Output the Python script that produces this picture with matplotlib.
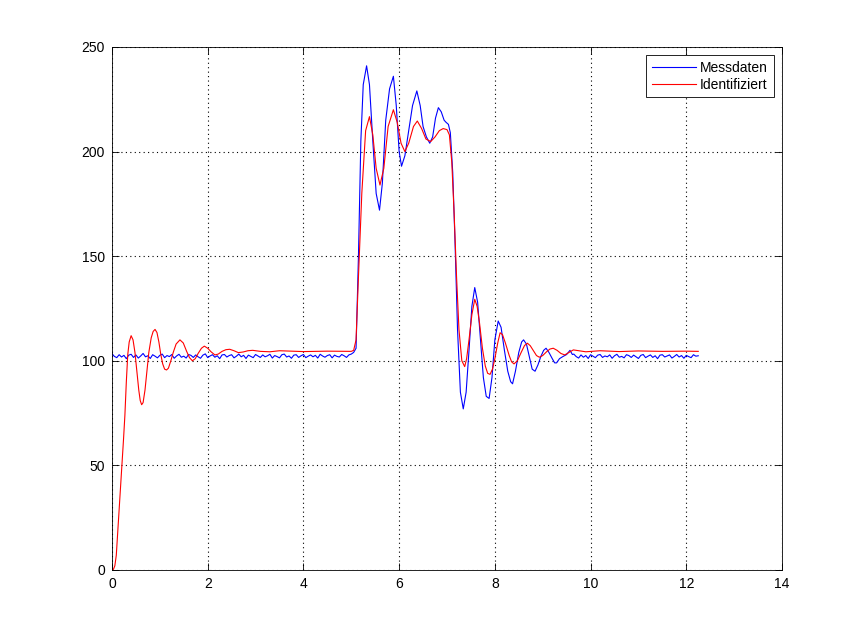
import numpy as np
import matplotlib.pyplot as plt

# Messdaten (blue): flat part before the step, sampled every 0.05 s
y_mess_start = [103.4, 102.1, 101.5, 102.9, 101.8, 102.6, 101.0, 102.7, 103.1, 101.6,
                102.8, 101.3, 102.3, 103.5, 101.9, 102.4, 101.1, 102.9, 102.2, 101.4,
                102.6, 103.2, 101.5, 102.5, 102.0, 103.0, 101.2, 102.3, 103.1, 101.7,
                102.2, 101.3, 103.0, 102.6, 101.6, 102.8, 101.9, 101.2, 102.7, 103.3,
                101.5, 102.3, 102.9, 101.7, 102.4, 101.0, 102.8, 103.0, 101.8, 102.5,
                102.9, 101.4, 102.2, 103.2, 101.9, 102.6, 101.1, 102.7, 102.1, 101.5,
                103.0, 102.3, 101.6, 102.8, 101.9, 102.4, 103.1, 101.3, 102.5, 102.0,
                101.4, 102.9, 103.2, 101.8, 102.3, 101.2, 102.7, 102.9, 101.6, 102.4,
                103.0, 101.5, 102.2, 102.8, 101.9, 102.6, 101.3, 103.1, 102.3, 101.7,
                102.5, 102.9, 101.4, 102.7, 102.1, 101.8, 103.0, 102.4, 101.6, 102.8,
                103.2]
t_mess_start = np.round(np.arange(0.0, 5.001, 0.05), 2)

# step response part
t_mess_step = [5.05, 5.1, 5.15, 5.2, 5.25, 5.32, 5.38, 5.45, 5.52,
               5.59, 5.65, 5.72, 5.8, 5.88, 5.94, 6.0, 6.05, 6.12, 6.2,
               6.28, 6.37, 6.44, 6.5, 6.57, 6.64, 6.7, 6.76, 6.82, 6.88,
               6.94, 6.98, 7.03, 7.07, 7.12, 7.17, 7.22, 7.28, 7.34, 7.4,
               7.46, 7.52, 7.58, 7.64, 7.7, 7.76, 7.82, 7.88, 7.94, 8.0,
               8.07, 8.13, 8.2, 8.27, 8.33, 8.37, 8.43, 8.5, 8.56, 8.6,
               8.66, 8.72, 8.78, 8.84, 8.9, 8.96, 9.02, 9.07, 9.13, 9.2,
               9.25, 9.29, 9.35, 9.42, 9.5, 9.57, 9.62]
y_mess_step = [104.0, 106.0, 150.0, 205.0, 232.0, 241.0, 232.0, 205.0, 180.0,
               172.0, 185.0, 215.0, 230.0, 236.0, 222.0, 200.0, 193.0, 198.0, 210.0,
               222.0, 229.0, 222.0, 212.0, 207.0, 204.0, 207.0, 216.0, 221.0, 219.0,
               215.0, 214.0, 213.0, 209.0, 190.0, 155.0, 115.0, 85.0, 77.0, 85.0,
               105.0, 126.0, 135.0, 128.0, 110.0, 92.0, 83.0, 82.0, 92.0, 110.0,
               119.0, 116.0, 105.0, 95.0, 90.0, 89.0, 95.0, 104.0, 109.0, 110.0,
               108.0, 102.0, 96.0, 95.0, 98.0, 102.0, 105.0, 106.0, 104.0, 101.0,
               99.0, 99.0, 101.0, 102.0, 103.0, 105.0, 103.0]

# flat part after the step, sampled every 0.05 s
y_mess_end = [103.2, 102.0, 101.3, 102.8, 101.7, 102.5, 101.1, 102.9, 102.2, 101.5,
              102.7, 103.0, 101.6, 102.3, 101.9, 102.8, 101.2, 102.4, 103.1, 101.7,
              102.1, 101.4, 102.9, 102.5, 101.6, 102.7, 101.9, 101.1, 102.6, 103.0,
              101.5, 102.2, 102.8, 101.6, 102.4, 101.0, 102.7, 102.9, 101.8, 102.3,
              102.8, 101.3, 102.1, 103.0, 101.8, 102.5, 101.2, 102.6, 102.0, 101.5,
              102.9, 102.2, 102.4]
t_mess_end = np.round(np.arange(9.65, 12.251, 0.05), 2)

# Identifiziert (red)
t_ident = [0.0, 0.03, 0.06, 0.09, 0.12, 0.16, 0.2, 0.24, 0.27, 0.3,
           0.33, 0.36, 0.4, 0.44, 0.48, 0.52, 0.56, 0.59, 0.62, 0.65,
           0.69, 0.73, 0.77, 0.82, 0.86, 0.9, 0.94, 0.98, 1.02, 1.06,
           1.1, 1.14, 1.18, 1.23, 1.28, 1.34, 1.42, 1.49, 1.56, 1.62,
           1.68, 1.74, 1.8, 1.87, 1.93, 2.0, 2.07, 2.15, 2.22, 2.3,
           2.38, 2.46, 2.55, 2.64, 2.74, 2.84, 2.94, 3.1, 3.3, 3.5,
           4.0, 4.5, 5.0, 5.05, 5.1, 5.15, 5.22, 5.3, 5.38, 5.45,
           5.52, 5.6, 5.68, 5.77, 5.88, 5.96, 6.04, 6.12, 6.2, 6.3,
           6.38, 6.47, 6.56, 6.66, 6.75, 6.84, 6.92, 7.0, 7.05, 7.1,
           7.15, 7.2, 7.25, 7.31, 7.37, 7.41, 7.46, 7.52, 7.58, 7.63,
           7.68, 7.74, 7.8, 7.85, 7.9, 7.95, 8.0, 8.06, 8.11, 8.16,
           8.22, 8.3, 8.35, 8.4, 8.47, 8.55, 8.62, 8.68, 8.74, 8.8,
           8.87, 8.93, 9.0, 9.08, 9.15, 9.22, 9.3, 9.38, 9.46, 9.55,
           9.64, 9.75, 9.9, 10.2, 10.6, 11.0, 11.5, 12.0, 12.25]
y_ident = [0.0, 0.3, 2.0, 7.0, 18.0, 33.0, 48.0, 62.0, 74.0, 90.0,
           103.0, 109.0, 112.0, 110.0, 104.0, 95.0, 86.0, 81.0, 79.0, 80.0,
           86.0, 95.0, 104.0, 111.0, 114.0, 115.0, 113.5, 109.0, 103.0, 98.5,
           96.0, 95.6, 96.5, 100.0, 104.0, 108.0, 110.0, 108.5, 104.5, 101.5,
           100.0, 101.0, 103.5, 106.0, 107.0, 106.0, 104.3, 102.8, 103.2, 104.5,
           105.3, 105.5, 104.8, 103.9, 104.2, 104.8, 105.0, 104.5, 104.3, 104.8,
           104.4, 104.6, 104.5, 105.0, 110.0, 140.0, 180.0, 210.0, 216.7, 208.0,
           192.0, 184.0, 192.0, 212.0, 220.0, 214.0, 204.0, 200.0, 204.0, 212.0,
           214.6, 211.0, 206.0, 204.8, 207.0, 210.0, 211.0, 210.5, 208.0, 195.0,
           170.0, 140.0, 115.0, 100.0, 97.2, 101.0, 110.0, 122.0, 129.4, 126.0,
           118.0, 106.0, 97.5, 94.0, 93.5, 96.0, 101.0, 108.5, 113.4, 112.5,
           108.5, 102.5, 99.5, 98.5, 100.0, 104.0, 107.3, 108.4, 107.2, 105.0,
           102.5, 101.7, 102.5, 104.3, 105.6, 106.0, 105.0, 103.5, 102.8, 104.0,
           105.2, 104.8, 104.3, 104.8, 104.4, 104.7, 104.5, 104.6, 104.5]

t_mess = np.concatenate([t_mess_start, t_mess_step, t_mess_end])
y_mess = np.concatenate([y_mess_start, y_mess_step, y_mess_end])

plt.rcParams['font.family'] = ['Liberation Sans', 'DejaVu Sans']

fig = plt.figure(figsize=(8.64, 6.41), dpi=100)
ax = fig.add_axes([0.1296, 0.1108, 0.7755, 0.8159])

ax.plot(t_mess, y_mess, color='blue', lw=0.8, label='Messdaten')
ax.plot(t_ident, y_ident, color='red', lw=0.8, label='Identifiziert')

ax.set_xlim(0, 14)
ax.set_ylim(0, 250)
ax.set_xticks(np.arange(0, 15, 2))
ax.set_yticks(np.arange(0, 251, 50))
ax.grid(True, linestyle=(0, (1, 3)), color='black', linewidth=0.8)
ax.tick_params(direction='in', top=True, right=True, length=5, width=0.6,
               labelsize=10, pad=5)
for s in ax.spines.values():
    s.set_linewidth(0.6)

leg = ax.legend(loc='upper right', fontsize=10, handlelength=3.2,
                fancybox=False, framealpha=1, edgecolor='black',
                borderaxespad=0.6, labelspacing=0.2, handletextpad=0.3)
leg.get_frame().set_linewidth(0.6)

fig.savefig('out.png', dpi=100)
